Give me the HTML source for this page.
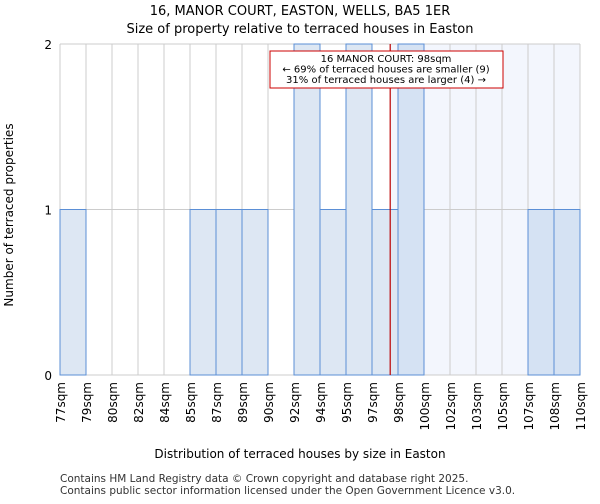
<!DOCTYPE html>
<html><head><meta charset="utf-8"><style>
body{margin:0;background:#fff;font-family:"DejaVu Sans","Liberation Sans",sans-serif}
svg text{font-family:"DejaVu Sans","Liberation Sans",sans-serif}
</style></head><body>
<svg id="chart" width="600" height="500">
<text x="300" y="15" text-anchor="middle" font-size="13">16, MANOR COURT, EASTON, WELLS, BA5 1ER</text>
<text x="300" y="33" text-anchor="middle" font-size="13">Size of property relative to terraced houses in Easton</text>
<g id="plot"></g>
<text x="300" y="458" text-anchor="middle" font-size="12">Distribution of terraced houses by size in Easton</text>
<text transform="translate(13,215) rotate(-90)" text-anchor="middle" font-size="12">Number of terraced properties</text>
<text x="60" y="482" font-size="10.5" fill="#333">Contains HM Land Registry data © Crown copyright and database right 2025.</text>
<text x="60" y="494" font-size="10.5" fill="#333">Contains public sector information licensed under the Open Government Licence v3.0.</text>
</svg>
<script>
const binLabels=["77sqm","79sqm","80sqm","82sqm","84sqm","85sqm","87sqm","89sqm","90sqm","92sqm","94sqm","95sqm","97sqm","98sqm","100sqm","102sqm","103sqm","105sqm","107sqm","108sqm","110sqm"];
const counts=[1,0,0,0,0,1,1,1,0,2,1,2,1,2,0,0,0,0,1,1];
const yTicks=[0,1,2];
const markerBin=12.7;
const NS="http://www.w3.org/2000/svg";
const L=60,R=580,T=44,B=375;
const g=document.getElementById('plot');
const n=counts.length;
const xs=i=>L+(R-L)*i/n;
const ys=v=>B-(B-T)*v/2;
function mk(t,a){const e=document.createElementNS(NS,t);for(const k in a)e.setAttribute(k,a[k]);g.appendChild(e);return e;}
const mx=xs(markerBin);
let e=mk('rect',{x:mx,y:T,width:R-mx,height:B-T,fill:'#f3f6fd'});


for(let i=0;i<=n;i++){e=mk('line',{x1:xs(i),x2:xs(i),y1:T,y2:B,stroke:'#ccc','stroke-width':1});

}
yTicks.forEach(v=>{e=mk('line',{x1:L,x2:R,y1:ys(v),y2:ys(v),stroke:'#ccc','stroke-width':1});


e=mk('text',{x:L-8,y:ys(v)+5,'text-anchor':'end','font-size':12});e.textContent=v;

});
counts.forEach((c,i)=>{if(!c)return;e=mk('rect',{x:xs(i),y:ys(c),width:xs(i+1)-xs(i),height:ys(0)-ys(c),fill:xs(i)>=mx?'#d5e2f3':'#dde7f3',stroke:'#5b8fd6','stroke-width':1});

});
binLabels.forEach((s,i)=>{e=mk('text',{transform:`translate(${xs(i)+5},382) rotate(-90)`,'text-anchor':'end','font-size':12});e.textContent=s;

});
e=mk('line',{x1:mx,x2:mx,y1:T,y2:B,stroke:'#b00','stroke-width':1.2});


e=mk('rect',{x:270,y:51,width:233,height:37,fill:'#fff',stroke:'#c00','stroke-width':1});


["16 MANOR COURT: 98sqm","← 69% of terraced houses are smaller (9)","31% of terraced houses are larger (4) →"].forEach((s,i)=>{e=mk('text',{x:386,y:62+i*10.5,'text-anchor':'middle','font-size':10});e.textContent=s;

});
</script>
</body></html>
